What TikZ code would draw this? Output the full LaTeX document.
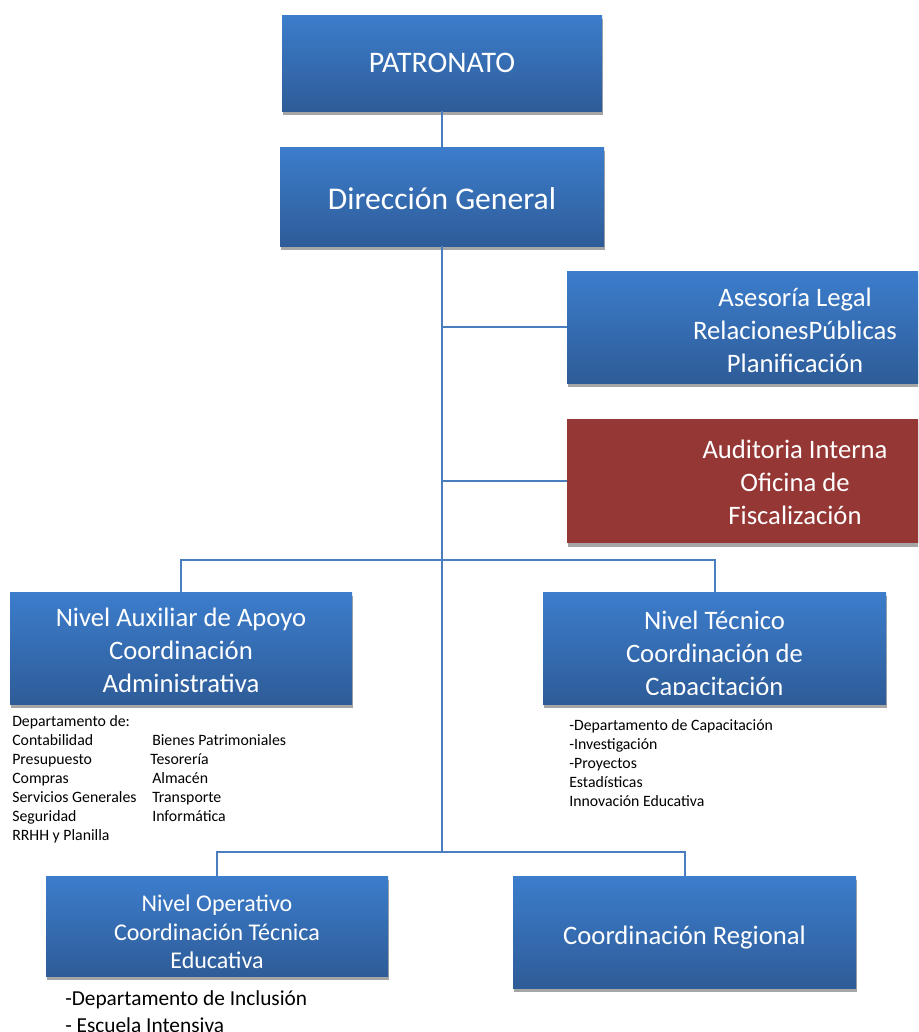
\documentclass[tikz,border=0pt]{standalone}
\usepackage{fontspec}
\setmainfont{Carlito}
\usetikzlibrary{shadows}
\definecolor{boxtop}{RGB}{60,125,204}
\definecolor{boxbot}{RGB}{46,92,152}
\definecolor{redbox}{RGB}{149,55,53}
\definecolor{shadowgray}{RGB}{166,166,166}
\definecolor{linkblue}{RGB}{74,126,190}
\tikzset{
  boxshadow/.style={general shadow={fill=shadowgray, shadow xshift=0.75pt, shadow yshift=-3pt}},
  bluebox/.style={boxshadow, top color=boxtop, bottom color=boxbot, draw=none, inner sep=0pt},
  redfill/.style={boxshadow, fill=redbox, draw=none, inner sep=0pt},
  link/.style={draw=linkblue, line width=1.5pt},
  boxtext/.style={text=white, align=center, inner sep=0pt},
  listtext/.style={text=black, inner sep=0pt, anchor=base west},
}
\begin{document}
\begin{tikzpicture}[x=0.75pt,y=-0.75pt]
\clip (0,0) rectangle (918,1032);
\fill[white] (0,0) rectangle (918,1032);

% boxes
\node[bluebox, minimum width=240pt, minimum height=72pt] (pat) at (442,63) {};
\node[bluebox, minimum width=243pt, minimum height=74.25pt] (dir) at (442,196.5) {};
\node[bluebox, minimum width=342pt, minimum height=84pt] (ase) at (795,327) {};
\node[redfill, minimum width=342pt, minimum height=93pt] (aud) at (795,481) {};
\node[bluebox, minimum width=256.5pt, minimum height=84pt] (aux) at (181,648) {};
\node[bluebox, minimum width=257.25pt, minimum height=84pt] (tec) at (714.5,648) {};
\node[bluebox, minimum width=256.5pt, minimum height=75pt] (ope) at (217,926) {};
\node[bluebox, minimum width=257.25pt, minimum height=84pt] (reg) at (684.5,932) {};

% connectors
\coordinate (j1) at (442,327);
\coordinate (j2) at (442,481);
\coordinate (j3) at (442,560);
\coordinate (j4) at (442,852);
\draw[link] (pat.south) -- (dir.north);
\draw[link] (dir.south) -- (j4);
\draw[link] (j1) -- (ase.west);
\draw[link] (j2) -- (aud.west);
\draw[link] (aux.north) -- (aux.north |- j3) -- (tec.north |- j3) -- (tec.north);
\draw[link] (ope.north) -- (ope.north |- j4) -- (reg.north |- j4) -- (reg.north);

% box texts
\node[boxtext, font=\fontsize{22.4}{27}\selectfont] (tpat) at (442,63) {PATRONATO};
\node[boxtext, font=\fontsize{23.7}{28.5}\selectfont] (tdir) at (442,199) {Dirección General};
\node[boxtext, font=\fontsize{20}{24.75}\selectfont] (tase) at (795,330) {Asesoría Legal\\RelacionesPúblicas\\Planificación};
\node[boxtext, font=\fontsize{20}{24.75}\selectfont] (taud) at (795,482.5) {Auditoria Interna\\Oficina de\\Fiscalización};
\node[boxtext, font=\fontsize{20}{24.75}\selectfont] (taux) at (181,650) {Nivel Auxiliar de Apoyo\\Coordinación\\Administrativa};
\begin{scope}
  \clip (543,592) rectangle (886,694);
  \node[boxtext, font=\fontsize{20}{25}\selectfont] (ttec) at (714.5,655.5) {Nivel Técnico\\Coordinación de\\Capacitación};
\end{scope}
\begin{scope}
  \clip (46,876) rectangle (388,968);
  \node[boxtext, font=\fontsize{18}{21.4}\selectfont] (tope) at (217,932) {Nivel Operativo\\Coordinación Técnica\\Educativa};
\end{scope}
\node[boxtext, font=\fontsize{20}{24.75}\selectfont] (treg) at (684.5,938) {Coordinación Regional};

% lists
\node[listtext, font=\fontsize{11.85}{14.25}\selectfont] (auxl) at (12,726)
  {\begin{tabular}[t]{@{}l@{}}Departamento de:\\Contabilidad\\Presupuesto\\Compras\\Servicios Generales\\Seguridad\\RRHH y Planilla\end{tabular}};
\node[listtext, font=\fontsize{11.85}{14.25}\selectfont] (auxr) at (152,745)
  {\begin{tabular}[t]{@{}l@{}}Bienes Patrimoniales\\\hspace{-1.5pt}Tesorería\\Almacén\\Transporte\\Informática\end{tabular}};
\node[listtext, font=\fontsize{11.85}{14.4}\selectfont] (tecl) at (569,730)
  {\begin{tabular}[t]{@{}l@{}}-Departamento de Capacitación\\-Investigación\\-Proyectos\\Estadísticas\\Innovación Educativa\end{tabular}};
\node[listtext, font=\fontsize{16}{20.25}\selectfont] (opel) at (65,1005.5)
  {\begin{tabular}[t]{@{}l@{}}-Departamento de Inclusión\\- Escuela Intensiva\end{tabular}};
\end{tikzpicture}
\end{document}
